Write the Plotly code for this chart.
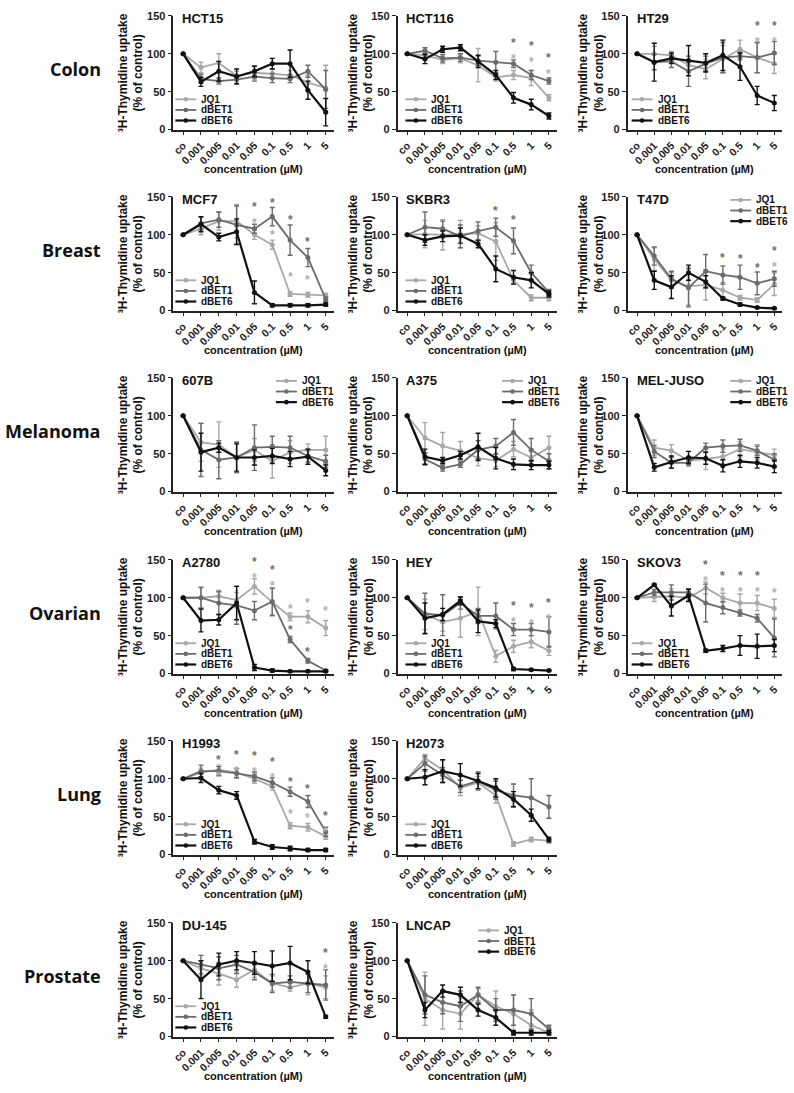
import plotly.graph_objects as go

# categories on the x axis (concentration in uM, "co" = control)
CONC = ["co", "0.001", "0.005", "0.01", "0.05", "0.1", "0.5", "1", "5"]
DRUGS = ["JQ1", "dBET1", "dBET6"]
ROW_LABELS = ["Colon", "Breast", "Melanoma", "Ovarian", "Lung", "Prostate"]

# ---- Colon ----
hct15_jq1 = [100, 82, 88, 71, 75, 74, 72, 62, 55]
hct15_jq1_sd = [0, 7, 12, 6, 8, 6, 6, 10, 30]
hct15_dbet1 = [100, 67, 64, 66, 70, 68, 67, 77, 53]
hct15_dbet1_sd = [0, 6, 4, 5, 6, 6, 5, 8, 25]
hct15_dbet6 = [100, 63, 77, 70, 77, 87, 87, 52, 23]
hct15_dbet6_sd = [0, 6, 13, 10, 7, 7, 18, 12, 18]
hct15_stars = []

hct116_jq1 = [100, 98, 92, 94, 85, 69, 72, 68, 42]
hct116_jq1_sd = [0, 5, 5, 6, 22, 5, 6, 10, 4]
hct116_dbet1 = [100, 104, 94, 95, 91, 89, 87, 72, 64]
hct116_dbet1_sd = [0, 4, 5, 5, 6, 14, 5, 6, 4]
hct116_dbet6 = [100, 93, 106, 108, 90, 72, 42, 33, 18]
hct116_dbet6_sd = [0, 6, 4, 4, 8, 6, 7, 7, 4]
hct116_stars = [("0.5", "dBET1", 115), ("0.5", "JQ1", 100), ("1", "dBET1", 111),
                ("1", "JQ1", 96), ("5", "dBET1", 96), ("5", "JQ1", 81)]

ht29_jq1 = [100, 100, 98, 85, 80, 93, 106, 95, 87]
ht29_jq1_sd = [0, 10, 5, 8, 13, 18, 12, 20, 13]
ht29_dbet1 = [100, 89, 90, 77, 87, 95, 97, 95, 101]
ht29_dbet1_sd = [0, 10, 8, 20, 10, 20, 5, 20, 15]
ht29_dbet6 = [100, 89, 94, 91, 88, 98, 83, 45, 35]
ht29_dbet6_sd = [0, 25, 7, 20, 12, 20, 18, 12, 10]
ht29_stars = [("1", "dBET1", 136), ("1", "JQ1", 123), ("5", "dBET1", 136), ("5", "JQ1", 123)]

# ---- Breast ----
mcf7_jq1 = [100, 108, 118, 118, 100, 87, 22, 21, 20]
mcf7_jq1_sd = [0, 8, 12, 22, 6, 6, 3, 3, 3]
mcf7_dbet1 = [100, 115, 120, 113, 108, 124, 93, 70, 15]
mcf7_dbet1_sd = [0, 8, 10, 25, 6, 12, 20, 12, 3]
mcf7_dbet6 = [100, 114, 97, 104, 24, 7, 7, 7, 8]
mcf7_dbet6_sd = [0, 10, 5, 17, 15, 2, 2, 2, 2]
mcf7_stars = [("0.05", "dBET1", 137), ("0.05", "JQ1", 124), ("0.1", "dBET1", 146),
              ("0.1", "JQ1", 104), ("0.5", "dBET1", 123), ("0.5", "JQ1", 48),
              ("1", "dBET1", 95), ("1", "JQ1", 45)]

skbr3_jq1 = [100, 101, 100, 101, 102, 91, 40, 17, 17]
skbr3_jq1_sd = [0, 18, 20, 18, 10, 25, 5, 4, 4]
skbr3_dbet1 = [100, 110, 108, 98, 105, 110, 92, 50, 24]
skbr3_dbet1_sd = [0, 20, 10, 15, 12, 12, 17, 10, 4]
skbr3_dbet6 = [100, 93, 98, 99, 88, 55, 44, 40, 22]
skbr3_dbet6_sd = [0, 7, 7, 10, 5, 17, 9, 10, 4]
skbr3_stars = [("0.1", "dBET1", 136), ("0.5", "dBET1", 123)]

t47d_jq1 = [100, 68, 40, 32, 34, 27, 17, 14, 35]
t47d_jq1_sd = [0, 15, 10, 25, 20, 10, 3, 3, 15]
t47d_dbet1 = [100, 72, 42, 30, 52, 47, 44, 36, 42]
t47d_dbet1_sd = [0, 12, 10, 25, 22, 12, 16, 15, 10]
t47d_dbet6 = [100, 40, 31, 50, 38, 16, 8, 4, 3]
t47d_dbet6_sd = [0, 12, 15, 10, 8, 2, 2, 1, 1]
t47d_stars = [("0.1", "dBET1", 73), ("0.5", "dBET1", 72), ("1", "dBET1", 60),
              ("5", "dBET1", 78), ("5", "JQ1", 65)]

# ---- Melanoma ----
b607_jq1 = [100, 65, 62, 45, 55, 40, 52, 55, 55]
b607_jq1_sd = [0, 25, 30, 20, 15, 22, 15, 8, 18]
b607_dbet1 = [100, 55, 42, 45, 58, 59, 58, 47, 40]
b607_dbet1_sd = [0, 35, 25, 20, 30, 14, 15, 8, 8]
b607_dbet6 = [100, 52, 58, 45, 45, 47, 43, 46, 28]
b607_dbet6_sd = [0, 25, 6, 18, 10, 10, 10, 10, 7]

a375_jq1 = [100, 71, 60, 54, 44, 41, 56, 45, 58]
a375_jq1_sd = [0, 20, 18, 12, 10, 8, 10, 10, 15]
a375_dbet1 = [100, 43, 31, 36, 55, 60, 78, 55, 40]
a375_dbet1_sd = [0, 8, 4, 4, 12, 10, 17, 15, 10]
a375_dbet6 = [100, 46, 41, 48, 59, 44, 36, 35, 35]
a375_dbet6_sd = [0, 10, 4, 5, 18, 14, 7, 6, 5]

meljuso_jq1 = [100, 58, 54, 41, 43, 46, 56, 52, 48]
meljuso_jq1_sd = [0, 10, 8, 5, 14, 10, 10, 10, 8]
meljuso_dbet1 = [100, 53, 38, 38, 58, 60, 61, 54, 42]
meljuso_dbet1_sd = [0, 8, 7, 4, 6, 8, 8, 6, 8]
meljuso_dbet6 = [100, 32, 39, 45, 44, 34, 40, 38, 33]
meljuso_dbet6_sd = [0, 5, 8, 8, 8, 8, 8, 7, 8]

# ---- Ovarian ----
a2780_jq1 = [100, 100, 102, 97, 115, 94, 75, 75, 60]
a2780_jq1_sd = [0, 13, 8, 10, 10, 18, 5, 8, 10]
a2780_dbet1 = [100, 100, 93, 90, 83, 95, 45, 17, 4]
a2780_dbet1_sd = [0, 14, 15, 25, 12, 18, 4, 3, 1]
a2780_dbet6 = [100, 70, 71, 93, 8, 4, 3, 3, 3]
a2780_dbet6_sd = [0, 15, 7, 22, 4, 2, 1, 1, 1]
a2780_stars = [("0.05", "dBET1", 146), ("0.05", "JQ1", 134), ("0.1", "dBET1", 137),
               ("0.1", "JQ1", 123), ("0.5", "JQ1", 89), ("0.5", "dBET1", 62),
               ("1", "JQ1", 97), ("1", "dBET1", 33), ("5", "JQ1", 86)]

hey_jq1 = [100, 78, 68, 73, 82, 23, 36, 42, 30]
hey_jq1_sd = [0, 20, 12, 25, 32, 8, 8, 8, 6]
hey_dbet1 = [100, 79, 77, 93, 76, 76, 58, 58, 55]
hey_dbet1_sd = [0, 27, 27, 8, 10, 17, 8, 8, 20]
hey_dbet6 = [100, 73, 78, 96, 69, 66, 6, 5, 4]
hey_dbet6_sd = [0, 20, 8, 5, 15, 5, 2, 1, 1]
hey_stars = [("0.5", "dBET1", 88), ("0.5", "JQ1", 76), ("1", "dBET1", 86),
             ("1", "JQ1", 75), ("5", "dBET1", 92), ("5", "JQ1", 80)]

skov3_jq1 = [100, 101, 102, 100, 113, 100, 93, 93, 86]
skov3_jq1_sd = [0, 6, 10, 4, 8, 6, 12, 10, 12]
skov3_dbet1 = [100, 107, 107, 107, 93, 87, 80, 73, 47]
skov3_dbet1_sd = [0, 4, 10, 5, 25, 8, 4, 5, 25]
skov3_dbet6 = [100, 117, 89, 103, 30, 33, 37, 36, 37]
skov3_dbet6_sd = [0, 1, 13, 8, 2, 4, 13, 16, 8]
skov3_stars = [("0.05", "dBET1", 143), ("0.05", "JQ1", 130), ("0.1", "dBET1", 128),
               ("0.1", "JQ1", 115), ("0.5", "dBET1", 128), ("0.5", "JQ1", 115),
               ("1", "dBET1", 128), ("1", "JQ1", 115), ("5", "JQ1", 110)]

# ---- Lung ----
h1993_jq1 = [100, 108, 112, 108, 100, 90, 38, 36, 24]
h1993_jq1_sd = [0, 6, 6, 6, 6, 5, 4, 5, 4]
h1993_dbet1 = [100, 110, 110, 107, 103, 95, 83, 70, 30]
h1993_dbet1_sd = [0, 8, 6, 6, 6, 6, 6, 8, 6]
h1993_dbet6 = [100, 101, 85, 78, 17, 10, 8, 6, 6]
h1993_dbet6_sd = [0, 6, 5, 5, 3, 3, 3, 2, 2]
h1993_stars = [("0.005", "dBET1", 124), ("0.005", "JQ1", 112), ("0.01", "dBET1", 131),
               ("0.01", "JQ1", 119), ("0.05", "dBET1", 130), ("0.05", "JQ1", 118),
               ("0.1", "dBET1", 122), ("0.1", "JQ1", 110), ("0.5", "dBET1", 100),
               ("0.5", "JQ1", 58), ("1", "dBET1", 90), ("1", "JQ1", 52),
               ("5", "dBET1", 50), ("5", "JQ1", 38)]

h2073_jq1 = [100, 127, 112, 88, 95, 78, 14, 20, 18]
h2073_jq1_sd = [0, 5, 12, 10, 8, 10, 3, 3, 3]
h2073_dbet1 = [100, 120, 105, 90, 97, 85, 78, 75, 63]
h2073_dbet1_sd = [0, 10, 10, 8, 12, 12, 15, 25, 15]
h2073_dbet6 = [100, 102, 110, 105, 97, 88, 73, 52, 20]
h2073_dbet6_sd = [0, 10, 15, 15, 10, 12, 10, 8, 3]

# ---- Prostate ----
du145_jq1 = [100, 90, 83, 75, 88, 70, 65, 70, 65]
du145_jq1_sd = [0, 10, 15, 10, 10, 10, 5, 15, 15]
du145_dbet1 = [100, 95, 90, 95, 85, 70, 72, 70, 68]
du145_dbet1_sd = [0, 12, 15, 12, 10, 12, 8, 12, 20]
du145_dbet6 = [100, 75, 95, 100, 97, 93, 97, 85, 26]
du145_dbet6_sd = [0, 25, 15, 12, 15, 20, 22, 15, 2]
du145_stars = [("5", "dBET1", 110), ("5", "JQ1", 97)]

lncap_jq1 = [100, 50, 35, 30, 55, 40, 30, 15, 5]
lncap_jq1_sd = [0, 35, 25, 20, 8, 20, 25, 20, 8]
lncap_dbet1 = [100, 55, 45, 40, 55, 35, 35, 30, 10]
lncap_dbet1_sd = [0, 25, 15, 20, 10, 15, 20, 20, 5]
lncap_dbet6 = [100, 35, 60, 55, 35, 25, 5, 5, 5]
lncap_dbet6_sd = [0, 10, 8, 10, 8, 10, 3, 3, 3]

# (title, row, col, [(values, sd) per drug], stars, legend corner, legend x offset)
panels = [
    ("HCT15", 0, 0, [(hct15_jq1, hct15_jq1_sd), (hct15_dbet1, hct15_dbet1_sd), (hct15_dbet6, hct15_dbet6_sd)], hct15_stars, "bl", 0),
    ("HCT116", 0, 1, [(hct116_jq1, hct116_jq1_sd), (hct116_dbet1, hct116_dbet1_sd), (hct116_dbet6, hct116_dbet6_sd)], hct116_stars, "bl", 6),
    ("HT29", 0, 2, [(ht29_jq1, ht29_jq1_sd), (ht29_dbet1, ht29_dbet1_sd), (ht29_dbet6, ht29_dbet6_sd)], ht29_stars, "bl", 2),
    ("MCF7", 1, 0, [(mcf7_jq1, mcf7_jq1_sd), (mcf7_dbet1, mcf7_dbet1_sd), (mcf7_dbet6, mcf7_dbet6_sd)], mcf7_stars, "bl", 0),
    ("SKBR3", 1, 1, [(skbr3_jq1, skbr3_jq1_sd), (skbr3_dbet1, skbr3_dbet1_sd), (skbr3_dbet6, skbr3_dbet6_sd)], skbr3_stars, "bl", 6),
    ("T47D", 1, 2, [(t47d_jq1, t47d_jq1_sd), (t47d_dbet1, t47d_dbet1_sd), (t47d_dbet6, t47d_dbet6_sd)], t47d_stars, "tr", 28),
    ("607B", 2, 0, [(b607_jq1, b607_jq1_sd), (b607_dbet1, b607_dbet1_sd), (b607_dbet6, b607_dbet6_sd)], [], "tr", 34),
    ("A375", 2, 1, [(a375_jq1, a375_jq1_sd), (a375_dbet1, a375_dbet1_sd), (a375_dbet6, a375_dbet6_sd)], [], "tr", 31),
    ("MEL-JUSO", 2, 2, [(meljuso_jq1, meljuso_jq1_sd), (meljuso_dbet1, meljuso_dbet1_sd), (meljuso_dbet6, meljuso_dbet6_sd)], [], "tr", 28),
    ("A2780", 3, 0, [(a2780_jq1, a2780_jq1_sd), (a2780_dbet1, a2780_dbet1_sd), (a2780_dbet6, a2780_dbet6_sd)], a2780_stars, "bl", 0),
    ("HEY", 3, 1, [(hey_jq1, hey_jq1_sd), (hey_dbet1, hey_dbet1_sd), (hey_dbet6, hey_dbet6_sd)], hey_stars, "bl", 6),
    ("SKOV3", 3, 2, [(skov3_jq1, skov3_jq1_sd), (skov3_dbet1, skov3_dbet1_sd), (skov3_dbet6, skov3_dbet6_sd)], skov3_stars, "bl", 2),
    ("H1993", 4, 0, [(h1993_jq1, h1993_jq1_sd), (h1993_dbet1, h1993_dbet1_sd), (h1993_dbet6, h1993_dbet6_sd)], h1993_stars, "bl", 0),
    ("H2073", 4, 1, [(h2073_jq1, h2073_jq1_sd), (h2073_dbet1, h2073_dbet1_sd), (h2073_dbet6, h2073_dbet6_sd)], [], "bl", 6),
    ("DU-145", 5, 0, [(du145_jq1, du145_jq1_sd), (du145_dbet1, du145_dbet1_sd), (du145_dbet6, du145_dbet6_sd)], du145_stars, "bl", 0),
    ("LNCAP", 5, 1, [(lncap_jq1, lncap_jq1_sd), (lncap_dbet1, lncap_dbet1_sd), (lncap_dbet6, lncap_dbet6_sd)], [], "tr", 55),
]

COLORS = {"JQ1": "#a8a8a8", "dBET1": "#6b6b6b", "dBET6": "#111111"}
STAR_COLORS = {"JQ1": "#b0b0b0", "dBET1": "#707070", "dBET6": "#111111"}
WIDTHS = {"JQ1": 1.8, "dBET1": 1.8, "dBET6": 2.2}

W, H = 794, 1093
COL_L = [171, 396, 627]
COL_R = [332, 556, 782]
ROW_T = [10, 193, 376, 560, 743, 927]
PH = 115
FONT = "Arial, Liberation Sans, sans-serif"
AX = "#222222"


def px(x):
    return x / W


def py(y):
    return 1 - y / H


def vy(top, v):
    # pixel y for a value on a 0-150 axis
    return top + PH - v * PH / 150.0


fig = go.Figure()
layout = {}
ann = []
shapes = []

for i, (title, r, c, series, stars, corner, dx) in enumerate(panels):
    sfx = "" if i == 0 else str(i + 1)
    xa, ya = "x" + sfx, "y" + sfx
    left, right, top = COL_L[c], COL_R[c], ROW_T[r]

    layout["xaxis" + sfx] = dict(
        domain=[px(left), px(right)], anchor=ya, type="category",
        categoryorder="array", categoryarray=CONC, range=[-0.55, 8.45],
        showline=True, linecolor=AX, linewidth=1.5, ticks="outside",
        ticklen=4, tickwidth=1.3, tickcolor=AX, tickangle=-45, showgrid=False,
        zeroline=False, tickfont=dict(family=FONT, size=10.5, color=AX, weight="bold"),
    )
    layout["yaxis" + sfx] = dict(
        domain=[py(top + PH), py(top)], anchor=xa, range=[0, 150],
        tickvals=[0, 50, 100, 150], showline=True, linecolor=AX, linewidth=1.5,
        ticks="outside", ticklen=4, tickwidth=1.3, tickcolor=AX, showgrid=False,
        zeroline=False, tickfont=dict(family=FONT, size=11, color=AX, weight="bold"),
    )

    for drug, (vals, sd) in zip(DRUGS, series):
        fig.add_trace(go.Scatter(
            x=CONC, y=vals, name=drug, xaxis=xa, yaxis=ya, mode="lines+markers",
            showlegend=False, cliponaxis=False,
            line=dict(color=COLORS[drug], width=WIDTHS[drug]),
            marker=dict(color=COLORS[drug], size=5),
            error_y=dict(type="data", array=sd, color=COLORS[drug], thickness=1.4, width=2.5),
        ))

    # significance stars; a close dBET1/JQ1 pair at one dose is stacked in one label
    by_cat = {}
    for cat, drug, yv in stars:
        by_cat.setdefault(cat, []).append((drug, yv))
    for cat, items in by_cat.items():
        items.sort(key=lambda t: -t[1])
        groups = []
        for drug, yv in items:
            if groups and groups[-1][-1][1] - yv < 20:
                groups[-1].append((drug, yv))
            else:
                groups.append([(drug, yv)])
        for g in groups:
            txt = "<br>".join("<span style='color:%s'>*</span>" % STAR_COLORS[d] for d, _ in g)
            ymid = sum(v for _, v in g) / len(g)
            ann.append(dict(x=CONC.index(cat), y=ymid, xref=xa, yref=ya, text=txt, showarrow=False,
                            yshift=-3, font=dict(family=FONT, size=12, color="#777", weight="bold")))

    # panel title
    ann.append(dict(x=px(left + 7), y=py(top + 3), xref="paper", yref="paper", text=title,
                    xanchor="left", yanchor="middle", showarrow=False,
                    font=dict(family=FONT, size=13, color="#111", weight="bold")))
    # x title
    ann.append(dict(x=px((left + right) / 2), y=py(top + PH + 40), xref="paper", yref="paper",
                    text="concentration (µM)", xanchor="center", yanchor="middle", showarrow=False,
                    font=dict(family=FONT, size=11, color="#111", weight="bold")))
    # y title
    yt_off = 43 if c == 0 else 37
    ann.append(dict(x=px(left - yt_off), y=py(top + PH / 2), xref="paper", yref="paper",
                    text="³H-Thymidine uptake<br>(% of control)", textangle=-90,
                    xanchor="center", yanchor="middle", showarrow=False,
                    font=dict(family=FONT, size=12, color="#111", weight="bold")))

    # small legend drawn inside each panel
    if corner == "bl":
        leg_vals = [40, 26, 12]
        x0 = left + 2 + dx
    else:
        leg_vals = [146, 132, 118] if title != "LNCAP" else [140, 126, 112]
        x0 = right - dx - 24
    x1 = x0 + 21
    for drug, lv in zip(DRUGS, leg_vals):
        yy = vy(top, lv)
        shapes.append(dict(type="line", xref="paper", yref="paper", x0=px(x0), x1=px(x1),
                           y0=py(yy), y1=py(yy), line=dict(color=COLORS[drug], width=WIDTHS[drug])))
        xm = (x0 + x1) / 2
        shapes.append(dict(type="circle", xref="paper", yref="paper", x0=px(xm - 2.3), x1=px(xm + 2.3),
                           y0=py(yy + 2.3), y1=py(yy - 2.3), fillcolor=COLORS[drug],
                           line=dict(color=COLORS[drug], width=0)))
        ann.append(dict(x=px(x1 + 3), y=py(yy), xref="paper", yref="paper", text=drug,
                        xanchor="left", yanchor="middle", showarrow=False,
                        font=dict(family=FONT, size=10, color="#111", weight="bold")))

for r, lab in enumerate(ROW_LABELS):
    ann.append(dict(x=px(100), y=py(ROW_T[r] + 54), xref="paper", yref="paper", text=lab,
                    xanchor="right", yanchor="middle", showarrow=False,
                    font=dict(family="Open Sans, sans-serif", size=18, color="#111", weight="bold")))

fig.update_layout(
    width=W, height=H, margin=dict(l=0, r=0, t=0, b=0),
    paper_bgcolor="white", plot_bgcolor="white", showlegend=False,
    annotations=ann, shapes=shapes, **layout,
)

# drop the default page margin so the figure sits at the window origin
fig.write_html("out.html", config={"displayModeBar": False},
               post_script="document.body.style.margin='0px';")
